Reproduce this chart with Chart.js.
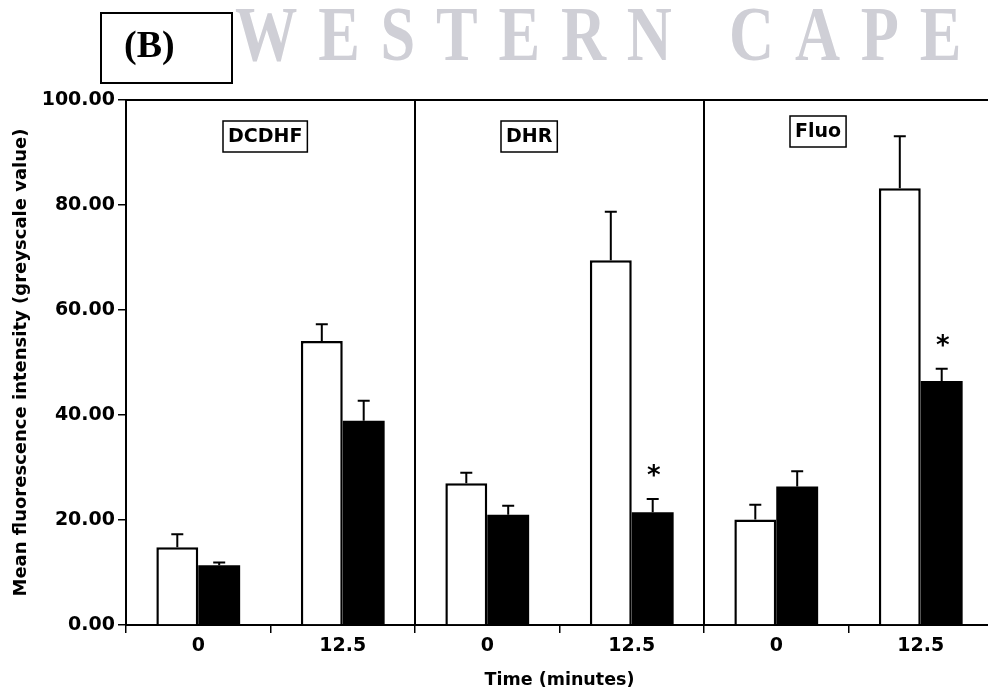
<!DOCTYPE html>
<html>
<head>
<meta charset="utf-8">
<script src="https://cdn.jsdelivr.net/npm/chart.js@4.4.1/dist/chart.umd.min.js"></script>
<style>
  html, body { margin: 0; padding: 0; background: #fff; overflow: hidden; }
  #wrap { width: 993px; height: 694px; }
</style>
</head>
<body>
<div id="wrap"><canvas id="chart"></canvas></div>
<script>
// Werte
const timeLabels = ["0", "12.5", "0", "12.5", "0", "12.5"];
const probeNames = ["DCDHF", "DHR", "Fluo"];
const openMeans = [14.8, 54.1, 27.0, 69.5, 20.1, 83.2];
const openErrors = [2.5, 3.2, 2.0, 9.2, 2.8, 9.9];
const filledMeans = [11.4, 38.9, 21.0, 21.5, 26.4, 46.5];
const filledErrors = [0.5, 3.8, 1.7, 2.5, 2.9, 2.3];
const filledStars = [false, false, false, true, false, true];
const yTickValues = [0, 20, 40, 60, 80, 100];

const errors = [openErrors, filledErrors];
const stars = [[false, false, false, false, false, false], filledStars];

const tickFont = { family: "DejaVu Sans", weight: "bold", size: 19 };

// Zeichnet Rahmen, Fehlerbalken, Sternchen und Beschriftungen
const panelPlugin = {
  id: "panels",
  beforeDraw(chart) {
    const ctx = chart.ctx;
    ctx.save();
    ctx.fillStyle = "#fff";
    ctx.fillRect(0, 0, chart.width, chart.height);
    ctx.restore();
  },
  afterDraw(chart) {
    const { ctx, chartArea: a, scales: { x, y } } = chart;
    ctx.save();
    ctx.strokeStyle = "#000";
    ctx.fillStyle = "#000";

    // obere Linie
    ctx.lineWidth = 2;
    ctx.beginPath();
    ctx.moveTo(a.left, a.top);
    ctx.lineTo(a.right, a.top);
    ctx.stroke();

    // Trennlinien zwischen den Sonden
    const panelEdges = [a.left];
    for (let p = 1; p < probeNames.length; p++) {
      const xp = (x.getPixelForValue(2 * p - 1) + x.getPixelForValue(2 * p)) / 2;
      panelEdges.push(xp);
      ctx.beginPath();
      ctx.moveTo(xp, a.top);
      ctx.lineTo(xp, a.bottom);
      ctx.stroke();
    }

    // Fehlerbalken (nur nach oben) und Sternchen
    chart.data.datasets.forEach((ds, i) => {
      const meta = chart.getDatasetMeta(i);
      meta.data.forEach((bar, j) => {
        const yTop = y.getPixelForValue(ds.data[j]);
        const yErr = y.getPixelForValue(ds.data[j] + errors[i][j]);
        ctx.lineWidth = 2;
        ctx.beginPath();
        ctx.moveTo(bar.x, yTop);
        ctx.lineTo(bar.x, yErr);
        ctx.moveTo(bar.x - 6, yErr);
        ctx.lineTo(bar.x + 6, yErr);
        ctx.stroke();
        if (stars[i][j]) {
          ctx.font = "bold 26px 'DejaVu Sans'";
          ctx.textAlign = "center";
          ctx.textBaseline = "middle";
          ctx.fillText("*", bar.x + 1, yErr - 22);
        }
      });
    });

    // Beschriftungskästen der Sonden
    const boxOffsets = [97, 86, 86];
    const boxTops = [121, 121, 116];
    ctx.font = "bold 19px 'DejaVu Sans'";
    ctx.textAlign = "left";
    ctx.textBaseline = "middle";
    ctx.lineWidth = 1.5;
    probeNames.forEach((name, p) => {
      const w = ctx.measureText(name).width + 10;
      const bx = panelEdges[p] + boxOffsets[p];
      const by = boxTops[p];
      ctx.strokeRect(bx, by, w, 31);
      ctx.fillText(name, bx + 5, by + 16);
    });

    // Kopfzeile: (B) und Wasserzeichen
    ctx.lineWidth = 2;
    ctx.strokeRect(101, 13, 131, 70);
    ctx.font = "bold 38px 'Liberation Serif'";
    ctx.textAlign = "left";
    ctx.textBaseline = "alphabetic";
    ctx.fillText("(B)", 124, 57);

    ctx.fillStyle = "#cfcfd6";
    ctx.font = "bold 78px 'Liberation Serif'";
    ctx.letterSpacing = "26px";
    ctx.translate(235, 60);
    ctx.scale(0.8, 1);
    ctx.fillText("WESTERN CAPE", 0, 0);
    ctx.restore();
  }
};

new Chart(document.getElementById("chart"), {
  type: "bar",
  data: {
    labels: timeLabels,
    datasets: [
      {
        label: "open",
        data: openMeans,
        backgroundColor: "#fff",
        borderColor: "#000",
        borderWidth: 2.5,
      },
      {
        label: "filled",
        data: filledMeans,
        backgroundColor: "#000",
        borderColor: "#000",
        borderWidth: 0,
      },
    ],
  },
  options: {
    responsive: true,
    maintainAspectRatio: false,
    animation: false,
    devicePixelRatio: 1,
    layout: { padding: { top: 100, right: 0, left: 0, bottom: 0 } },
    categoryPercentage: 0.58,
    barPercentage: 1.0,
    plugins: {
      legend: { display: false },
      tooltip: { enabled: false },
    },
    scales: {
      x: {
        grid: { display: true, drawOnChartArea: false, drawTicks: true, tickLength: 8, color: "#000", lineWidth: 1.5 },
        border: { display: true, color: "#000", width: 2 },
        ticks: { color: "#000", font: tickFont, padding: 2, maxRotation: 0 },
        title: { display: true, text: "Time (minutes)", color: "#000", font: { family: "DejaVu Sans", weight: "bold", size: 17.5 }, padding: { top: 0, bottom: 3 } },
        afterFit(scale) { scale.height = 69; },
      },
      y: {
        min: 0,
        max: 100,
        grid: { display: true, drawOnChartArea: false, drawTicks: true, tickLength: 8, color: "#000", lineWidth: 1.5 },
        border: { display: true, color: "#000", width: 2 },
        afterBuildTicks(scale) { scale.ticks = yTickValues.map(v => ({ value: v })); },
        ticks: {
          color: "#000",
          font: tickFont,
          padding: 3,
          callback: (v) => Number(v).toFixed(2),
        },
        title: { display: true, text: "Mean fluorescence intensity (greyscale value)", color: "#000", font: { family: "DejaVu Sans", weight: "bold", size: 18 }, padding: { top: 11, bottom: 0 } },
        afterFit(scale) { scale.width = 126; },
      },
    },
  },
  plugins: [panelPlugin],
});
</script>
</body>
</html>
